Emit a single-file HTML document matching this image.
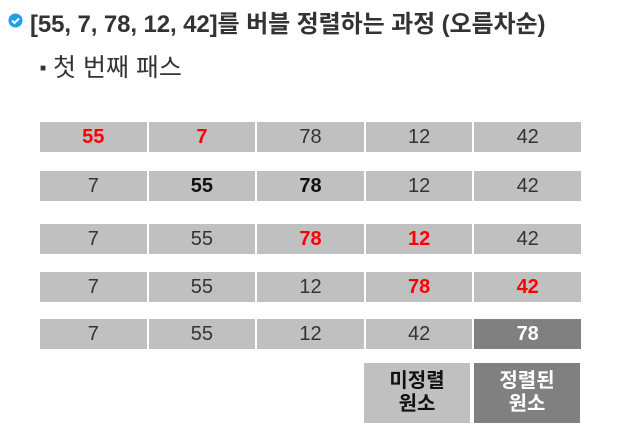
<!DOCTYPE html>
<html><head><meta charset="utf-8"><style>
body{margin:0;width:627px;height:445px;background:#fff;font-family:"Liberation Sans","Noto Sans CJK KR",sans-serif;position:relative;overflow:hidden}
.t{position:absolute;white-space:nowrap}
.c{position:absolute;height:30px;background:#c0c0c0;color:#333;font-size:20px;line-height:30px;text-align:center}
.r{color:#f00;font-weight:bold}.b{color:#111;font-weight:bold}
.d{background:#808080;color:#fff;font-weight:bold}
.lg{position:absolute;width:106px;height:60px;font-size:20px;font-weight:bold;text-align:center;line-height:23px;box-sizing:border-box;padding-top:7px}
</style></head><body>
<svg style="position:absolute;left:8px;top:13px" width="15" height="15"><circle cx="7.5" cy="7.5" r="7" fill="#1ea0e6"/><path d="M4 7.5l2.5 2.5 4.5-4.5" stroke="#fff" stroke-width="2" fill="none"/></svg>
<div class="t" style="left:30px;top:4px;font-size:24px;font-weight:bold;color:#333;letter-spacing:-0.1px">[55, 7, 78, 12, 42]를 버블 정렬하는 과정 (오름차순)</div>
<div class="t" style="left:40px;top:48px;font-size:25px;color:#333"><span style="font-size:10px;vertical-align:5px">■</span> 첫 번째 패스</div>
<div id="grid"></div>
<div class="lg" style="left:364px;top:363px;background:#c0c0c0;color:#111">미정렬<br>원소</div>
<div class="lg" style="left:474px;top:363px;background:#808080;color:#fff">정렬된<br>원소</div>
<script>
const rows=[[55,7,78,12,42],[7,55,78,12,42],[7,55,78,12,42],[7,55,12,78,42],[7,55,12,42,78]];
const styles=[["r","r","","",""],["","b","b","",""],["","","r","r",""],["","","","r","r"],["","","","","d"]];
const tops=[122,171,224,272,319];
const g=document.getElementById('grid');
rows.forEach((row,i)=>row.forEach((v,j)=>{
const el=document.createElement('div');
el.className='c '+styles[i][j];
el.style.left=(40+j*108.6)+'px';el.style.top=tops[i]+'px';el.style.width='106.6px';
el.textContent=v;


g.appendChild(el);}));
</script>
</body></html>
